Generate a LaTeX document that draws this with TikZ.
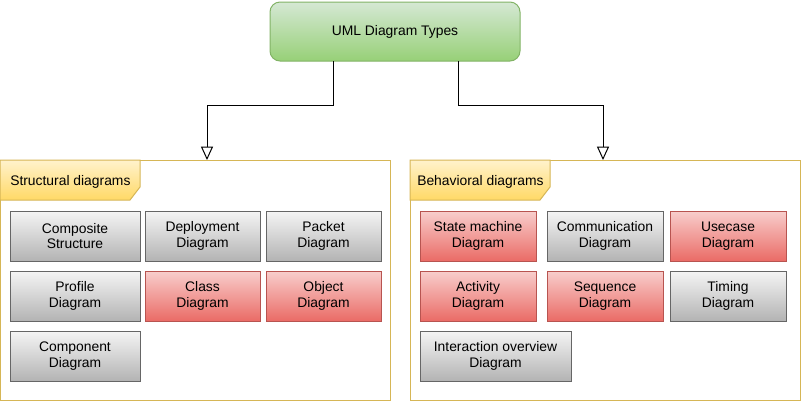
\documentclass[tikz,border=0pt]{standalone}
\usepackage{fontspec}
\setmainfont{Liberation Sans}
\usetikzlibrary{arrows.meta,calc}

\definecolor{grayTop}{HTML}{F5F5F5}
\definecolor{grayBot}{HTML}{B3B3B3}
\definecolor{grayLine}{HTML}{666666}
\definecolor{redTop}{HTML}{F8CECC}
\definecolor{redBot}{HTML}{EA6B66}
\definecolor{redLine}{HTML}{B85450}
\definecolor{greenTop}{HTML}{D5E8D4}
\definecolor{greenBot}{HTML}{97D077}
\definecolor{greenLine}{HTML}{82B366}
\definecolor{tabTop}{HTML}{FFF2CC}
\definecolor{tabBot}{HTML}{FFD966}
\definecolor{tabLine}{HTML}{D6B656}

\tikzset{
  box/.style={draw, line width=0.75pt, anchor=north west, minimum height=37.5pt,
    inner sep=0pt, outer sep=0pt, align=center, font=\fontsize{10.4}{11.8}\selectfont},
  graybox/.style={box, draw=grayLine, top color=grayTop, bottom color=grayBot},
  redbox/.style={box, draw=redLine, top color=redTop, bottom color=redBot},
  container/.style={draw=tabLine, fill=white, line width=0.75pt, anchor=north west,
    minimum width=292.5pt, minimum height=180pt, inner sep=0pt, outer sep=0pt},
  tab/.style={top color=tabTop, bottom color=tabBot, draw=tabLine, line width=0.75pt},
  tablabel/.style={anchor=west, inner sep=0pt, font=\fontsize{10.4}{11.8}\selectfont},
  conn/.style={draw=black, line width=0.75pt,
    -{Triangle[open, length=10pt, width=9pt, fill=white]}},
}

\begin{document}
\begin{tikzpicture}[x=0.75pt, y=-0.75pt]
    \useasboundingbox (0,0) rectangle (801,401);

    % Nodo principale
    \node[box, draw=greenLine, top color=greenTop, bottom color=greenBot,
      rounded corners=7.5pt, minimum width=187.5pt, minimum height=44.25pt]
      (umltypes) at (270,2) {UML Diagram Types};

    % Contenitori
    \node[container] (structural) at (0,160) {};
    \node[container] (behavioral) at (410,160) {};

    % Etichette
    \shade[tab] (0,160) -- (140,160) -- (140,187) -- (130,200) -- (0,200) -- cycle;
    \node[tablabel] (structlabel) at (10,182) {Structural diagrams};
    \shade[tab] (410,160) -- (550,160) -- (550,187) -- (540,200) -- (410,200) -- cycle;
    \node[tablabel] (behavlabel) at (417,182) {Behavioral diagrams};

    % Diagrammi strutturali
    \node[graybox, minimum width=97.5pt] (composite) at (10,211) {Composite\\Structure};
    \node[graybox, minimum width=86.25pt] (deployment) at (145,211) {Deployment\\Diagram};
    \node[graybox, minimum width=86.25pt] (packet) at (266,211) {Packet\\Diagram};
    \node[graybox, minimum width=97.5pt] (profile) at (10,271) {Profile\\Diagram};
    \node[redbox, minimum width=86.25pt] (class) at (145,271) {Class\\Diagram};
    \node[redbox, minimum width=86.25pt] (object) at (266,271) {Object\\Diagram};
    \node[graybox, minimum width=97.5pt] (component) at (10,331) {Component\\Diagram};

    % Diagrammi comportamentali
    \node[redbox, minimum width=87pt] (statemachine) at (420,211) {State machine\\Diagram};
    \node[graybox, minimum width=87pt] (communication) at (547,211) {Communication\\Diagram};
    \node[redbox, minimum width=87pt] (usecase) at (670,211) {Usecase\\Diagram};
    \node[redbox, minimum width=87pt] (activity) at (420,271) {Activity\\Diagram};
    \node[redbox, minimum width=87pt] (sequence) at (547,271) {Sequence\\Diagram};
    \node[graybox, minimum width=87pt] (timing) at (670,271) {Timing\\Diagram};
    \node[graybox, minimum width=113.25pt] (interaction) at (420,331) {Interaction overview\\Diagram};

    % Frecce
    \draw[conn] ($(umltypes.south)+(-62,0)$) -- ++(0,44) -| ($(structural.north)+(12,0)$);
    \draw[conn] ($(umltypes.south)+(63,0)$) -- ++(0,44) -| ($(behavioral.north)+(-2,0)$);
\end{tikzpicture}
\end{document}
